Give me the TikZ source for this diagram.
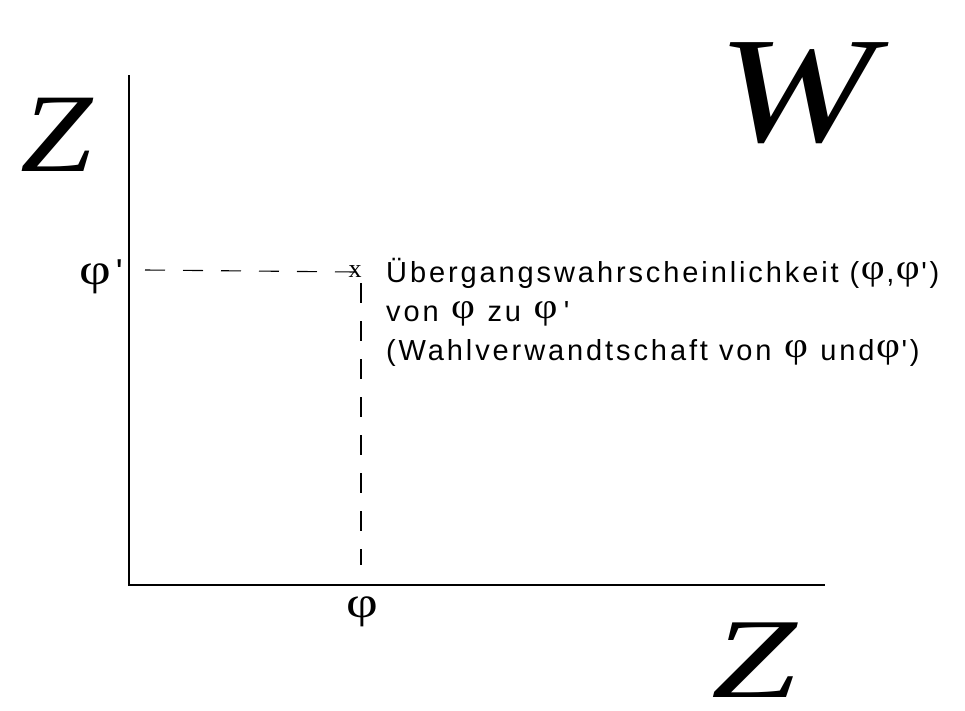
\documentclass[tikz,border=0pt]{standalone}
\usepackage{graphicx}
\usepackage{fontspec}
\setmainfont{Liberation Sans}[Ligatures=TeXOff, LetterSpace=10]
\newfontfamily\serifrm{Liberation Serif}
\newfontfamily\serifit{Liberation Serif Italic}
\tikzset{
  axisline/.style={line width=2.6pt, line cap=rect},
  guide/.style={line width=1.1pt, dash pattern=on 20pt off 18pt},
  bigletter/.style={inner sep=0pt},
  philabel/.style={inner sep=0pt},
}
\newcommand{\ph}{\hspace{1.5pt}\raisebox{3pt}{\serifrm\fontsize{36}{36}\selectfont\scalebox{1.15}[1]{φ}}\hspace{1.5pt}}
\begin{document}
\begin{tikzpicture}[x=1pt,y=-1pt]
\useasboundingbox (0,0) rectangle (965,711);
% axes
\coordinate (top) at (129,76);
\coordinate (origin) at (129,585);
\coordinate (right) at (824,585);
\draw[axisline] (top) -- (origin) -- (right);
% big letters
\node[bigletter] (zleft) at (57,135) {\serifit\fontsize{112}{112}\selectfont\scalebox{1.16}[1]{Z}};
\node[bigletter] (w) at (796,93) {\serifit\fontsize{151}{151}\selectfont\scalebox{1.25}[1]{W}};
\node[bigletter] (zbottom) at (754,660) {\serifit\fontsize{114}{114}\selectfont\scalebox{1.35}[1]{Z}};
% phi labels
\node[philabel, anchor=base east] (phiprime) at (123,284)
  {{\serifrm\fontsize{44}{44}\selectfont\scalebox{1.25}[1]{φ}}\hspace{5pt}{\fontsize{36}{36}\selectfont '}};
\node[philabel] (phi) at (362,612) {\serifrm\fontsize{44}{44}\selectfont\scalebox{1.25}[1]{φ}};
% point
\node[inner sep=0pt, font=\serifrm\fontsize{26}{26}\selectfont] (pt) at (355,272) {x};
\coordinate (hstart) at (145,270);
\coordinate (vend) at (361,565);
\draw[guide] (hstart) -- (pt.center);
\draw[guide] (361,283) -- (vend);
% description
\node[anchor=base west, inner sep=0pt, align=left, font=\fontsize{29}{39}\selectfont] (desc) at (386,360)
  {Übergangswahrscheinlichkeit (\ph,\ph')\\
   von \ph{} zu \ph\,'\\
   (Wahlverwandtschaft von \ph{} und\ph')};
\end{tikzpicture}
\end{document}
